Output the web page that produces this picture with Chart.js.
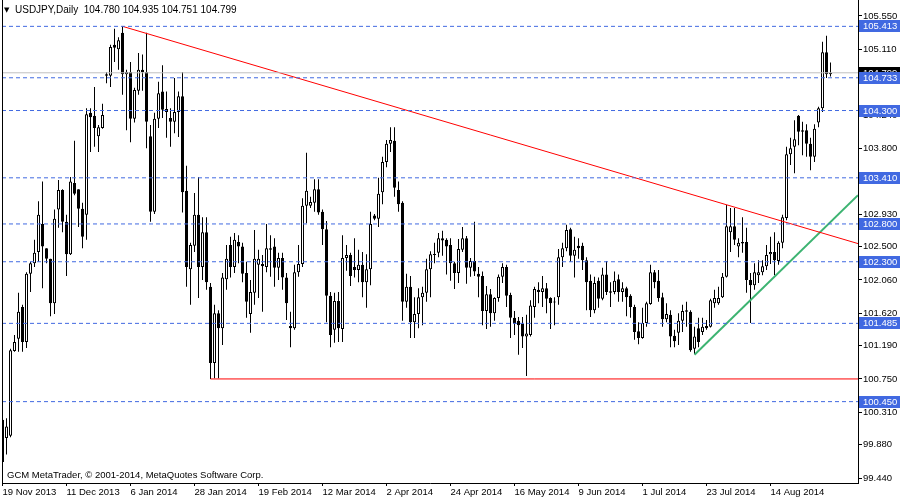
<!DOCTYPE html>
<html>
<head>
<meta charset="utf-8">
<script src="https://cdn.jsdelivr.net/npm/chart.js@4.4.0/dist/chart.umd.min.js"></script>
<style>
  html, body { margin: 0; padding: 0; background: #fff; }
  #wrap { width: 900px; height: 500px; }
</style>
</head>
<body>
<div id="wrap"><canvas id="chart" width="900" height="500"></canvas></div>
<script>
// daily candles, USDJPY
const openP = [
  100.21, 99.97, 100.00, 101.12, 101.28, 101.70, 101.24, 102.14, 102.28, 102.43,
  102.80, 102.48, 102.34, 101.75, 102.99, 103.25, 102.83, 102.40, 103.34, 103.26,
  103.00, 102.92, 104.27, 104.23, 103.96, 104.07, 104.78, 104.76, 105.17, 105.11,
  105.33, 104.78, 104.81, 104.19, 104.56, 104.84, 104.81, 103.96, 102.96, 104.19,
  104.55, 104.32, 104.20, 104.15, 104.28, 104.49, 103.24, 102.20, 102.51, 102.92,
  102.23, 102.69, 101.97, 100.96, 101.62, 101.42, 102.07, 102.52, 102.23, 102.56,
  102.50, 102.15, 101.61, 101.89, 102.26, 102.27, 102.23, 102.48, 102.50, 102.22,
  102.35, 102.09, 101.45, 101.42, 102.16, 102.27, 103.04, 103.04, 103.08, 103.26,
  102.96, 102.73, 101.85, 101.40, 101.78, 101.41, 102.35, 102.39, 102.23, 102.19,
  102.26, 102.03, 102.20, 102.91, 102.87, 103.22, 103.62, 103.86, 103.90, 103.25,
  103.08, 101.77, 101.97, 101.50, 101.61, 101.83, 101.89, 102.20, 102.40, 102.42,
  102.61, 102.59, 102.52, 102.28, 102.15, 102.46, 102.61, 102.22, 102.31, 102.14,
  102.11, 101.65, 101.87, 101.62, 101.82, 102.10, 102.23, 101.86, 101.56, 101.52,
  101.48, 101.31, 101.33, 101.70, 101.93, 101.90, 101.95, 101.82, 101.77, 101.83,
  102.36, 102.48, 102.73, 102.38, 102.51, 102.51, 102.32, 102.05, 101.66, 102.05,
  101.81, 102.13, 101.91, 101.90, 102.07, 101.90, 101.95, 101.85, 101.70, 101.38,
  101.29, 101.49, 101.74, 102.16, 102.05, 101.83, 101.54, 101.60, 101.32, 101.36,
  101.52, 101.66, 101.64, 101.15, 101.42, 101.37, 101.45, 101.44, 101.75, 101.75,
  101.83, 102.10, 102.69, 102.77, 102.50, 102.54, 102.56, 102.06, 101.99, 102.12,
  102.16, 102.24, 102.40, 102.43, 102.31, 102.55, 102.88, 103.72, 103.82, 104.23,
  104.04, 104.04, 103.86, 103.69, 104.14, 104.33, 105.07, 104.780
];
const highP = [
  100.25, 100.23, 101.15, 101.33, 101.89, 101.73, 102.16, 102.30, 102.59, 103.10,
  103.36, 102.48, 102.34, 102.99, 103.38, 103.26, 102.92, 103.42, 103.90, 103.26,
  103.08, 104.33, 104.33, 104.61, 104.11, 104.39, 104.81, 105.17, 105.38, 105.27,
  105.413, 104.84, 104.94, 104.60, 105.06, 105.04, 105.33, 104.11, 104.27, 104.68,
  104.90, 104.55, 104.33, 104.73, 104.55, 104.81, 103.57, 102.55, 103.21, 103.42,
  102.89, 102.89, 102.02, 101.73, 101.66, 102.15, 102.52, 102.63, 102.68, 102.65,
  102.55, 102.30, 102.06, 102.72, 102.46, 102.39, 102.80, 102.65, 102.61, 102.42,
  102.42, 102.15, 101.64, 102.26, 102.52, 103.14, 103.74, 103.16, 103.39, 103.39,
  102.99, 102.84, 101.90, 101.89, 101.90, 102.65, 102.52, 102.42, 102.61, 102.46,
  102.43, 102.40, 102.96, 102.93, 103.41, 103.69, 103.91, 104.08, 104.08, 103.36,
  103.10, 102.14, 102.11, 101.83, 101.95, 101.97, 102.34, 102.44, 102.55, 102.68,
  102.71, 102.61, 102.61, 102.30, 102.60, 102.76, 102.64, 102.35, 102.83, 102.23,
  102.17, 101.98, 101.94, 101.83, 102.13, 102.28, 102.26, 101.89, 101.65, 101.57,
  101.57, 101.60, 101.79, 101.97, 102.03, 102.11, 102.02, 101.83, 101.83, 102.47,
  102.55, 102.79, 102.75, 102.63, 102.61, 102.55, 102.36, 102.13, 102.10, 102.09,
  102.22, 102.31, 102.03, 102.17, 102.13, 102.03, 101.97, 101.87, 101.73, 101.50,
  101.69, 101.77, 102.26, 102.19, 102.19, 101.89, 101.75, 101.66, 101.40, 101.62,
  101.73, 101.77, 101.66, 101.44, 101.56, 101.56, 101.53, 101.81, 101.93, 101.97,
  102.15, 103.05, 103.01, 103.01, 102.61, 102.89, 102.75, 102.15, 102.28, 102.32,
  102.32, 102.52, 102.63, 102.69, 102.57, 102.92, 103.82, 103.94, 104.17, 104.24,
  104.15, 104.12, 103.94, 104.12, 104.35, 105.21, 105.29, 104.935
];
const lowP = [
  99.51, 99.75, 99.98, 101.11, 101.11, 101.11, 101.16, 101.90, 102.23, 102.30,
  101.95, 102.28, 101.58, 101.61, 102.75, 102.69, 102.11, 102.39, 103.18, 102.76,
  102.48, 102.59, 103.75, 103.82, 103.75, 104.06, 104.66, 104.61, 104.94, 104.84,
  104.51, 104.04, 103.88, 104.14, 104.51, 104.56, 103.80, 102.83, 102.93, 104.07,
  104.20, 103.94, 103.82, 104.00, 103.95, 102.95, 101.97, 101.73, 102.43, 101.82,
  102.06, 101.93, 100.75, 100.76, 100.76, 101.20, 101.93, 102.09, 102.15, 102.28,
  102.03, 101.56, 101.36, 101.73, 101.82, 101.64, 102.16, 102.10, 101.97, 102.06,
  101.93, 101.53, 101.17, 101.40, 102.10, 102.23, 102.81, 103.01, 102.96, 102.92,
  102.52, 101.50, 101.17, 101.23, 101.24, 101.24, 102.18, 101.98, 102.09, 102.03,
  101.83, 101.69, 101.99, 102.85, 102.76, 103.06, 103.55, 103.75, 103.16, 102.96,
  101.52, 101.69, 101.29, 101.29, 101.42, 101.46, 101.77, 101.83, 102.28, 102.36,
  102.38, 102.13, 102.05, 101.94, 102.02, 102.43, 102.01, 102.10, 102.11, 101.83,
  101.46, 101.41, 101.44, 101.52, 101.77, 102.02, 101.70, 101.29, 101.33, 101.07,
  101.16, 100.79, 101.31, 101.56, 101.75, 101.70, 101.62, 101.41, 101.46, 101.73,
  102.23, 102.44, 102.30, 102.09, 102.34, 102.19, 101.66, 101.57, 101.62, 101.69,
  101.79, 101.86, 101.70, 101.87, 101.77, 101.77, 101.58, 101.56, 101.27, 101.21,
  101.28, 101.44, 101.73, 101.95, 101.77, 101.44, 101.50, 101.17, 101.17, 101.20,
  101.37, 101.44, 101.11, 101.08, 101.17, 101.33, 101.40, 101.43, 101.69, 101.73,
  101.82, 102.09, 102.43, 102.52, 102.36, 102.42, 101.89, 101.49, 101.93, 102.02,
  102.12, 102.19, 102.27, 102.12, 102.26, 102.48, 102.85, 103.58, 103.47, 103.84,
  103.71, 103.69, 103.51, 103.62, 104.08, 104.28, 104.73, 104.751
];
const closeP = [
  99.65, 100.12, 101.13, 101.24, 101.64, 101.24, 102.14, 102.28, 102.42, 102.92,
  102.50, 102.34, 101.75, 102.87, 103.25, 102.83, 102.40, 103.36, 103.20, 103.00,
  102.63, 104.25, 104.21, 104.07, 104.08, 104.24, 104.76, 105.14, 105.13, 105.23,
  104.78, 104.81, 104.19, 104.57, 104.84, 104.81, 104.15, 102.96, 104.19, 104.53,
  104.31, 104.28, 104.15, 104.28, 104.49, 103.22, 102.23, 102.52, 102.92, 102.23,
  102.69, 102.03, 100.96, 101.62, 101.42, 102.09, 102.34, 102.23, 102.59, 102.50,
  102.14, 101.77, 101.90, 102.34, 102.34, 102.24, 102.48, 102.46, 102.22, 102.35,
  102.09, 101.75, 101.42, 102.16, 102.27, 103.04, 103.24, 103.09, 103.26, 102.95,
  102.73, 101.85, 101.33, 101.78, 101.42, 102.35, 102.39, 102.11, 102.19, 102.26,
  102.03, 102.20, 102.80, 102.87, 103.20, 103.62, 103.86, 103.91, 103.28, 103.06,
  101.77, 101.97, 101.50, 101.61, 101.83, 101.89, 102.20, 102.40, 102.39, 102.61,
  102.58, 102.50, 102.28, 102.15, 102.47, 102.61, 102.22, 102.31, 102.17, 102.10,
  101.65, 101.87, 101.62, 101.82, 102.10, 102.23, 101.85, 101.56, 101.48, 101.46,
  101.31, 101.35, 101.72, 101.94, 101.90, 101.95, 101.81, 101.75, 101.76, 102.36,
  102.48, 102.72, 102.38, 102.46, 102.48, 102.32, 102.03, 101.66, 102.02, 101.81,
  102.13, 101.90, 101.89, 102.05, 101.90, 101.95, 101.83, 101.70, 101.37, 101.29,
  101.49, 101.75, 102.16, 102.03, 101.82, 101.54, 101.61, 101.31, 101.25, 101.52,
  101.65, 101.64, 101.13, 101.31, 101.24, 101.44, 101.42, 101.79, 101.82, 101.82,
  102.10, 102.77, 102.77, 102.59, 102.55, 102.56, 102.06, 101.99, 102.16, 102.16,
  102.24, 102.39, 102.43, 102.32, 102.55, 102.89, 103.72, 103.80, 103.92, 104.02,
  104.02, 103.86, 103.69, 104.06, 104.33, 105.07, 104.78, 104.799
];

// time axis labels (every 16 bars)
const dateLabels = ['19 Nov 2013', '11 Dec 2013', '6 Jan 2014', '28 Jan 2014', '19 Feb 2014',
  '12 Mar 2014', '2 Apr 2014', '24 Apr 2014', '16 May 2014', '9 Jun 2014',
  '1 Jul 2014', '23 Jul 2014', '14 Aug 2014'];
const dateBars = [0, 16, 32, 48, 64, 80, 96, 112, 128, 144, 160, 176, 192];

// price axis
const priceTicks = [99.440, 99.880, 100.310, 100.750, 101.190, 101.620, 102.060, 102.500,
  102.930, 103.370, 103.800, 104.240, 104.680, 105.110, 105.550];

// horizontal levels drawn on the chart
const levels = [105.413, 104.733, 104.300, 103.410, 102.800, 102.300, 101.485, 100.450];
const lastPrice = 104.799;
const supportLow = 100.750;

// trend lines: [bar, price] pairs
const redTrend = [[30, 105.413], [213.875, 102.54]];
const greenTrend = [[173, 101.07], [213.875, 103.18]];
const redFlat = [[52, supportLow], [213.875, supportLow]];

const title = 'USDJPY,Daily  104.780 104.935 104.751 104.799';
const copyright = 'GCM MetaTrader, \u00A9 2001-2014, MetaQuotes Software Corp.';

const X_MIN = -0.125, X_MAX = 213.875;
const Y_MIN = 99.3739, Y_MAX = 105.7616;
const FONT = '"Liberation Sans", Arial, sans-serif';

const bars = openP.map((o, i) => i);
const wickData = bars.map(i => ({ x: i, y: [lowP[i], highP[i]] }));
const bodyData = bars.map(i => ({ x: i, y: [openP[i], closeP[i]] }));
const bodyFill = bars.map(i => (closeP[i] >= openP[i] ? '#ffffff' : '#000000'));

function segment(pts, color, width, dash) {
  return {
    type: 'line',
    data: pts.map(p => ({ x: p[0], y: p[1] })),
    borderColor: color,
    borderWidth: width,
    borderDash: dash || [],
    pointRadius: 0,
    fill: false,
    order: 0
  };
}

const datasets = [
  {
    type: 'bar',
    data: wickData,
    backgroundColor: '#000',
    barThickness: 1,
    grouped: false,
    inflateAmount: 0,
    order: 3
  },
  {
    type: 'bar',
    data: bodyData,
    backgroundColor: bodyFill,
    borderColor: '#000',
    borderWidth: 1,
    borderSkipped: false,
    barThickness: 3,
    grouped: false,
    inflateAmount: 0,
    minBarLength: 1,
    order: 2
  },
  segment([[X_MIN, lastPrice], [X_MAX, lastPrice]], '#c0c0c0', 1)
];
levels.forEach(v => datasets.push(segment([[X_MIN, v], [X_MAX, v]], '#4169e1', 1, [4, 3])));
datasets.push(segment(redFlat, '#ff0000', 1));
datasets.push(segment(redTrend, '#ff0000', 1));
datasets.push(segment(greenTrend, '#3cb371', 2));

const overlay = {
  id: 'overlay',
  afterDraw(chart) {
    const { ctx, chartArea, scales } = chart;
    const y = scales.y;
    ctx.save();
    // left edge of the chart window
    ctx.fillStyle = '#000';
    ctx.fillRect(chartArea.left, chartArea.top, 1, chartArea.bottom - chartArea.top);

    ctx.textBaseline = 'middle';
    ctx.textAlign = 'left';
    const tag = (v, bg) => {
      const py = Math.round(y.getPixelForValue(v));
      ctx.fillStyle = bg;
      ctx.fillRect(chartArea.right + 1, py - 6, 900 - chartArea.right - 1, 12);
      ctx.fillStyle = '#fff';
      ctx.font = '9.5px ' + FONT;
      ctx.fillText(v.toFixed(3), chartArea.right + 5, py + 0.5);
    };
    tag(lastPrice, '#000');
    levels.forEach(v => tag(v, '#4169e1'));

    ctx.fillStyle = '#000';
    ctx.font = '7px "DejaVu Sans"';
    ctx.fillText('\u25BC', 4, 10);
    ctx.font = '10px ' + FONT;
    ctx.fillText(title, 15, 10);
    ctx.font = '9.5px ' + FONT;
    ctx.fillText(copyright, 7, 475);
    ctx.restore();
  }
};

Chart.defaults.font.family = FONT;
Chart.defaults.color = '#000';

new Chart(document.getElementById('chart'), {
  type: 'bar',
  data: { datasets: datasets },
  options: {
    responsive: false,
    animation: false,
    layout: { padding: { left: 2, right: 0, top: 0, bottom: 0 } },
    plugins: { legend: { display: false }, tooltip: { enabled: false } },
    scales: {
      x: {
        type: 'linear',
        offset: false,
        min: X_MIN,
        max: X_MAX,
        border: { display: true, color: '#000' },
        grid: { drawOnChartArea: false, drawTicks: true, tickLength: 3, color: '#000', offset: false },
        afterBuildTicks: s => { s.ticks = dateBars.map(v => ({ value: v })); },
        afterFit: s => { s.height = 17; s.paddingLeft = 0; s.paddingRight = 0; },
        ticks: {
          align: 'start',
          autoSkip: false,
          maxRotation: 0,
          padding: 1,
          font: { size: 9.5 },
          callback: (v, i) => dateLabels[i]
        }
      },
      y: {
        type: 'linear',
        position: 'right',
        min: Y_MIN,
        max: Y_MAX,
        border: { display: true, color: '#000' },
        grid: { drawOnChartArea: false, drawTicks: true, tickLength: 4, color: '#000' },
        afterBuildTicks: s => { s.ticks = priceTicks.map(v => ({ value: v })); },
        afterFit: s => { s.width = 42; s.paddingTop = 0; s.paddingBottom = 0; },
        ticks: {
          autoSkip: false,
          padding: 1,
          font: { size: 9.5 },
          callback: v => v.toFixed(3)
        }
      }
    }
  },
  plugins: [overlay]
});
</script>
</body>
</html>
